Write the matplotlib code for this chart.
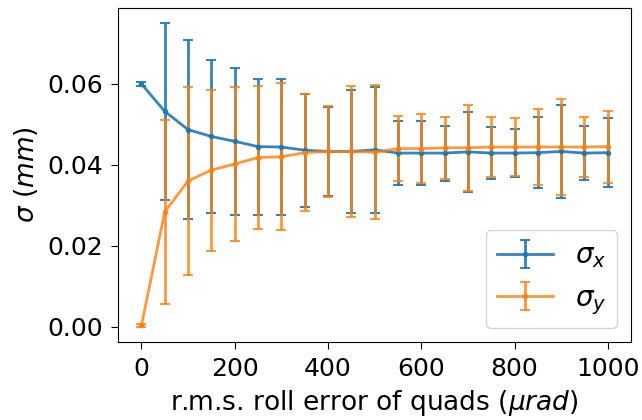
import matplotlib
matplotlib.use("Agg")
import matplotlib.pyplot as plt
import numpy as np

roll_error = [0, 50, 100, 150, 200, 250, 300, 350, 400, 450, 500,
              550, 600, 650, 700, 750, 800, 850, 900, 950, 1000]

sigma_x = [0.0600, 0.0532, 0.0487, 0.0470, 0.0458, 0.0445, 0.0444, 0.0436, 0.0433, 0.0433, 0.0437,
           0.0429, 0.0429, 0.0429, 0.0432, 0.0429, 0.0429, 0.0430, 0.0433, 0.0429, 0.0430]
sigma_x_err = [0.0005, 0.0218, 0.0222, 0.0190, 0.0182, 0.0168, 0.0167, 0.0140, 0.0109, 0.0151, 0.0156,
               0.0079, 0.0079, 0.0068, 0.0099, 0.0064, 0.0060, 0.0087, 0.0116, 0.0066, 0.0085]

sigma_y = [0.0003, 0.0284, 0.0360, 0.0387, 0.0402, 0.0418, 0.0420, 0.0430, 0.0433, 0.0433, 0.0431,
           0.0440, 0.0440, 0.0442, 0.0442, 0.0444, 0.0444, 0.0444, 0.0444, 0.0444, 0.0445]
sigma_y_err = [0.0003, 0.0227, 0.0232, 0.0199, 0.0190, 0.0177, 0.0181, 0.0145, 0.0113, 0.0162, 0.0165,
               0.0080, 0.0085, 0.0076, 0.0106, 0.0074, 0.0071, 0.0093, 0.0119, 0.0074, 0.0089]

fig = plt.figure(figsize=(6.42, 4.2), dpi=100)
ax = fig.add_axes([0.184, 0.186, 0.799, 0.795])

ax.errorbar(roll_error, sigma_x, yerr=sigma_x_err, marker='.', capsize=3.5,
            lw=2, elinewidth=2, capthick=1.5, ms=6, color='#1f77b4', alpha=0.9, label=r'$\sigma_x$')
ax.errorbar(roll_error, sigma_y, yerr=sigma_y_err, marker='.', capsize=3.5,
            lw=2, elinewidth=2, capthick=1.5, ms=6, color='#ff7f0e', alpha=0.8, label=r'$\sigma_y$')

ax.set_xticks([0, 200, 400, 600, 800, 1000])
ax.set_yticks([0.00, 0.02, 0.04, 0.06])
ax.tick_params(labelsize=18, length=5, pad=6)
ax.set_xlabel(r'r.m.s. roll error of quads ($\mu rad$)', fontsize=19, labelpad=5)
ax.set_ylabel(r'$\sigma\ (mm)$', fontsize=19, labelpad=5)
ax.legend(loc='lower right', fontsize=20)

fig.savefig("out.png", dpi=100)
